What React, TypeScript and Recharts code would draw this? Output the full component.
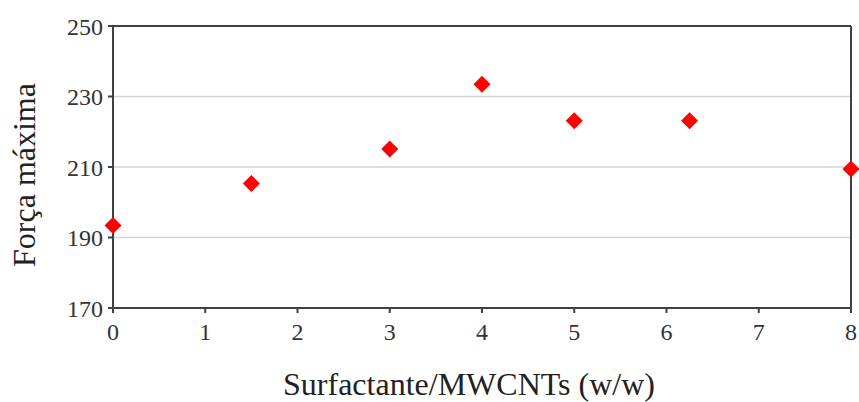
import React from "react";
import { ScatterChart, Scatter, XAxis, YAxis, CartesianGrid, ReferenceLine, Label } from "recharts";

const ratios = [0, 1.5, 3, 4, 5, 6.25, 8];
const maxForce = [193.4, 205.3, 215.1, 233.5, 223.1, 223.1, 209.4];
const xTicks = [0, 1, 2, 3, 4, 5, 6, 7, 8];
const yTicks = [170, 190, 210, 230, 250];

const data = ratios.map((r, i) => ({ x: r, y: maxForce[i] }));

const FONT = "'Liberation Serif', 'Times New Roman', serif";
const AXIS = "#404040";

const Diamond = (props: any) => {
  const { cx, cy } = props;
  const r = 8.5;
  return (
    <polygon
      points={`${cx},${cy - r} ${cx + r},${cy} ${cx},${cy + r} ${cx - r},${cy}`}
      fill="#ff0000"
    />
  );
};

export default function App() {
  return (
    <div style={{ position: "absolute", left: 0, top: 0, background: "#fff" }}>
      <ScatterChart width={859} height={402} margin={{ top: 26, right: 8, left: 0, bottom: 0 }}>
        <CartesianGrid horizontal vertical={false} stroke="#d4d4d4" strokeWidth={1.5} />
        <XAxis
          type="number"
          dataKey="x"
          domain={[0, 8]}
          ticks={xTicks}
          height={94}
          stroke={AXIS}
          strokeWidth={2}
          tickSize={5}
          tickMargin={10}
          tick={{ fill: "#333", fontSize: 24, fontFamily: FONT }}
        >
          <Label
            content={(p: any) => {
              const vb = p.viewBox;
              return (
                <text
                  x={469}
                  y={vb.y + 87}
                  textAnchor="middle"
                  fill="#222"
                  fontSize={32}
                  fontFamily={FONT}
                >
                  Surfactante/MWCNTs (w/w)
                </text>
              );
            }}
          />
        </XAxis>
        <YAxis
          type="number"
          dataKey="y"
          domain={[170, 250]}
          ticks={yTicks}
          width={113}
          stroke={AXIS}
          strokeWidth={2}
          tickSize={5}
          tickMargin={5}
          tick={{ fill: "#333", fontSize: 24, fontFamily: FONT }}
        >
          <Label
            content={(p: any) => {
              const vb = p.viewBox;
              const cy = vb.y + vb.height / 2 + 8;
              return (
                <text
                  x={35}
                  y={cy}
                  transform={`rotate(-90, 35, ${cy})`}
                  textAnchor="middle"
                  fill="#222"
                  fontSize={32}
                  fontFamily={FONT}
                >
                  Força máxima
                </text>
              );
            }}
          />
        </YAxis>
        <ReferenceLine y={250} stroke={AXIS} strokeWidth={2} />
        <ReferenceLine x={8} stroke={AXIS} strokeWidth={2} />
        <Scatter data={data} shape={<Diamond />} isAnimationActive={false} />
      </ScatterChart>
    </div>
  );
}
